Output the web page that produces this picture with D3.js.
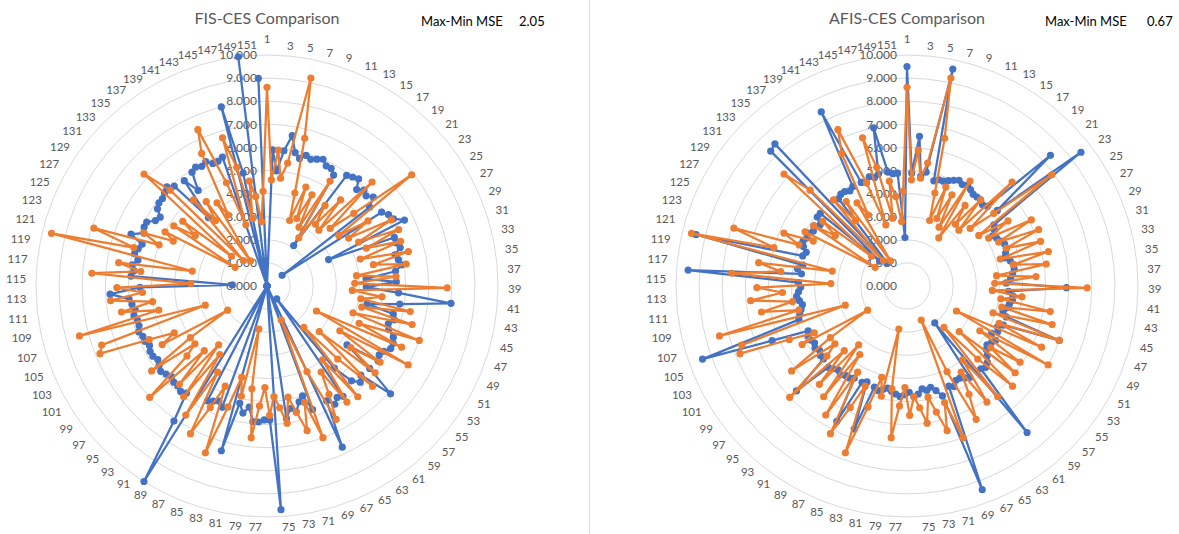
<!DOCTYPE html>
<html>
<head>
<meta charset="utf-8">
<script src="https://cdn.jsdelivr.net/npm/d3@7"></script>
<style>
  body { margin: 0; background: #fff; }
  svg { display: block; }
  text { font-family: Lato, "Noto Sans", sans-serif; }
</style>
</head>
<body>
<svg id="chart" width="1179" height="534"></svg>
<script>
// categories 1..151, only odd ones get a label
const categories = d3.range(1, 152);
const tickValues = [0, 1, 2, 3, 4, 5, 6, 7, 8, 9, 10];

// CES series (orange), shared by both charts
const ces = [
  8.6, 4.6, 5.9, 4.7, 5.4, 9.2, 6.6, 4.2, 3.0, 4.6,
  3.2, 4.4, 2.9, 5.3, 2.5, 4.3, 3.4, 4.9, 3.3, 6.4,
  3.7, 4.9, 7.9, 3.8, 5.2, 4.1, 6.1, 4.4, 6.2, 4.6,
  6.1, 4.2, 6.3, 4.7, 6.1, 3.9, 5.6, 3.8, 7.8, 3.7,
  5.0, 4.1, 6.3, 4.2, 6.5, 3.9, 7.0, 4.3, 6.4, 2.4,
  7.0, 3.7, 5.9, 4.5, 6.0, 3.0, 6.3, 4.4, 2.4, 6.2,
  4.0, 6.1, 4.4, 5.4, 6.5, 4.1, 1.6, 7.0, 5.3, 6.5,
  5.6, 4.9, 6.0, 5.3, 4.8, 5.6, 4.4, 5.2, 6.6, 4.5,
  1.9, 4.9, 4.1, 5.5, 7.7, 4.7, 5.8, 7.2, 4.3, 6.6,
  3.6, 6.0, 3.3, 5.7, 3.9, 7.0, 4.6, 4.0, 6.2, 4.0,
  2.0, 5.2, 4.5, 5.6, 7.8, 7.6, 2.8, 8.4, 4.8, 6.4,
  5.0, 6.8, 5.4, 6.5, 3.3, 7.6, 5.5, 6.5, 3.3, 9.6,
  6.0, 7.9, 5.0, 5.8, 4.5, 5.0, 1.6, 4.8, 3.8, 4.6,
  2.0, 7.2, 5.9, 1.5, 4.9, 3.6, 4.5, 1.3, 4.2, 3.5,
  6.4, 7.4, 4.8, 2.8, 6.7, 5.3, 3.0, 4.6, 3.9, 2.8,
  4.1
];

// FIS series (blue, left chart)
const fis = [
  0.0, 5.9, 5.0, 5.9, 6.6, 5.9, 5.7, 5.9, 5.8, 5.9,
  6.0, 5.8, 5.8, 5.6, 2.1, 5.9, 6.0, 6.1, 5.7, 5.9,
  5.8, 6.0, 5.6, 0.8, 5.9, 6.1, 6.2, 6.6, 2.9, 5.9,
  5.9, 6.0, 5.7, 5.8, 5.9, 5.6, 4.3, 5.6, 4.3, 5.7,
  8.0, 5.8, 4.4, 5.6, 5.7, 5.5, 5.6, 5.9, 6.0, 6.0,
  5.8, 5.7, 5.8, 4.3, 5.7, 7.1, 5.6, 5.8, 5.5, 4.6,
  0.7, 5.8, 5.7, 5.9, 5.6, 7.7, 0.0, 5.7, 5.0, 5.2,
  5.6, 5.4, 5.8, 0.0, 9.7, 5.8, 5.8, 5.9, 5.9, 5.3,
  5.6, 5.2, 7.4, 0.0, 5.6, 5.4, 5.5, 5.6, 0.0, 10.0,
  7.1, 5.8, 5.9, 5.8, 5.8, 5.7, 5.8, 5.9, 5.8, 5.7,
  5.8, 5.8, 5.7, 5.8, 5.8, 5.9, 5.8, 5.8, 5.9, 5.8,
  5.9, 6.0, 6.8, 5.5, 1.5, 5.9, 5.8, 5.9, 5.7, 5.9,
  5.8, 5.7, 6.3, 5.8, 5.9, 5.9, 5.6, 5.5, 5.8, 5.9,
  5.9, 6.0, 6.1, 5.9, 3.9, 5.8, 5.1, 5.9, 6.0, 5.9,
  6.0, 5.8, 5.8, 5.9, 0.0, 8.0, 5.0, 0.0, 10.0, 0.0,
  9.0
];

// AFIS series (blue, right chart)
const afis = [
  9.5, 4.9, 6.5, 4.8, 5.0, 9.6, 4.7, 4.8, 4.8, 4.9,
  5.0, 5.1, 5.0, 5.1, 5.0, 4.9, 4.9, 4.9, 4.8, 4.9,
  8.4, 5.1, 9.5, 4.6, 4.5, 4.3, 4.4, 4.5, 4.6, 4.6,
  4.5, 4.4, 4.6, 4.7, 4.7, 4.6, 4.5, 4.3, 6.9, 4.4,
  4.6, 4.6, 4.5, 4.4, 4.3, 4.5, 7.0, 4.5, 4.3, 4.4,
  4.2, 4.5, 4.4, 4.3, 4.4, 4.6, 4.8, 4.9, 4.8, 8.2,
  2.0, 4.8, 4.7, 4.6, 4.6, 4.8, 4.7, 9.4, 5.0, 4.7,
  4.5, 4.6, 4.5, 4.7, 4.8, 4.6, 4.7, 4.8, 4.7, 4.6,
  4.5, 4.6, 4.7, 4.6, 6.6, 4.5, 4.6, 6.6, 4.6, 4.7,
  4.7, 4.8, 4.7, 4.8, 4.9, 6.6, 4.8, 4.8, 4.7, 4.8,
  4.7, 4.8, 4.8, 4.7, 6.3, 9.4, 4.9, 4.8, 4.7, 4.6,
  4.7, 4.8, 4.7, 4.6, 4.7, 9.5, 4.6, 4.8, 4.6, 9.4,
  4.7, 4.6, 4.8, 4.9, 4.8, 4.9, 4.7, 4.8, 4.6, 4.9,
  4.9, 1.6, 8.3, 8.4, 1.3, 4.8, 4.9, 4.9, 4.8, 4.9,
  8.4, 4.9, 4.8, 5.0, 4.9, 5.0, 7.0, 5.0, 4.9, 4.9,
  2.1
];

const charts = [
  { title: 'FIS-CES Comparison', mse: '2.05', cx: 267, cy: 286, model: fis, mseX: 421, mseValX: 519 },
  { title: 'AFIS-CES Comparison', mse: '0.67', cx: 907, cy: 286, model: afis, mseX: 1045, mseValX: 1147 }
];

const R = 231;
const labelR = 241;
const blue = '#4472C4';
const orange = '#ED7D31';
const grey = '#595959';

const svg = d3.select('#chart');

const angle = d3.scaleLinear()
  .domain([0, categories.length])
  .range([0, 2 * Math.PI]);

const radius = d3.scaleLinear()
  .domain([0, 10])
  .range([0, R]);

const line = d3.lineRadial()
  .angle((d, i) => angle(i))
  .radius(d => radius(d))
  .curve(d3.curveLinearClosed);

// divider between the two charts
svg.append('line')
  .attr('x1', 589.5).attr('x2', 589.5)
  .attr('y1', 0).attr('y2', 534)
  .attr('stroke', '#d9d9d9');

charts.forEach(c => {
  const g = svg.append('g');

  g.append('text')
    .attr('x', c.cx).attr('y', 24)
    .attr('text-anchor', 'middle')
    .attr('font-size', 16)
    .attr('fill', grey)
    .text(c.title);

  g.append('text')
    .attr('x', c.mseX).attr('y', 26)
    .attr('font-size', 13)
    .attr('fill', '#000')
    .text('Max-Min MSE');

  g.append('text')
    .attr('x', c.mseValX).attr('y', 26)
    .attr('font-size', 13)
    .attr('fill', '#000')
    .text(c.mse);

  const plot = g.append('g')
    .attr('transform', `translate(${c.cx},${c.cy})`);

  // circular gridlines
  plot.selectAll('circle.grid')
    .data(tickValues.slice(1))
    .join('circle')
    .attr('class', 'grid')
    .attr('r', d => radius(d))
    .attr('fill', 'none')
    .attr('stroke', '#d9d9d9')
    .attr('stroke-width', 1);

  // value labels on the vertical axis
  plot.selectAll('text.tick')
    .data(tickValues)
    .join('text')
    .attr('class', 'tick')
    .attr('x', -10)
    .attr('y', d => -radius(d))
    .attr('dy', '0.35em')
    .attr('text-anchor', 'end')
    .attr('font-size', 12)
    .attr('fill', grey)
    .text(d => d3.format('.3f')(d));

  // category labels, anchored on the side facing the chart
  plot.selectAll('text.cat')
    .data(categories.filter(d => d % 2 === 1))
    .join('text')
    .attr('class', 'cat')
    .attr('x', d => labelR * Math.sin(angle(d - 1)))
    .attr('y', d => {
      const co = Math.cos(angle(d - 1));
      const shift = Math.abs(Math.sin(angle(d - 1))) < 0.01 ? 6 * Math.sign(co) : 0;
      return -labelR * co - shift;
    })
    .attr('dy', '0.35em')
    .attr('text-anchor', d => {
      const s = Math.sin(angle(d - 1));
      return s > 0.01 ? 'start' : (s < -0.01 ? 'end' : 'middle');
    })
    .attr('font-size', 11.5)
    .attr('fill', grey)
    .text(d => d);

  // series: model first, CES on top
  [[c.model, blue], [ces, orange]].forEach(([vals, col]) => {
    plot.append('path')
      .datum(vals)
      .attr('d', line)
      .attr('fill', 'none')
      .attr('stroke', col)
      .attr('stroke-width', 2.25)
      .attr('stroke-linejoin', 'round');

    plot.append('g')
      .selectAll('circle')
      .data(vals)
      .join('circle')
      .attr('transform', (d, i) => {
        const p = d3.pointRadial(angle(i), radius(d));
        return `translate(${p[0]},${p[1]})`;
      })
      .attr('r', 3.6)
      .attr('fill', col);
  });
});
</script>
</body>
</html>
